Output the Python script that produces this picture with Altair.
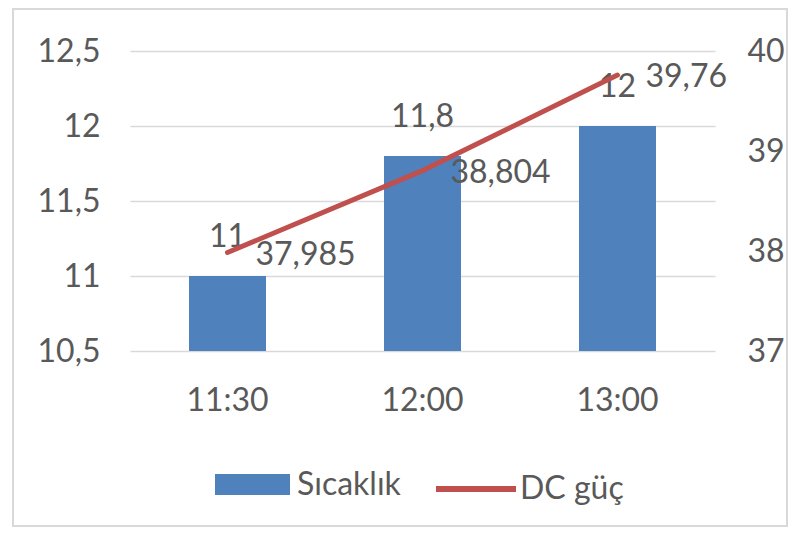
import altair as alt
import pandas as pd

times = ["11:30", "12:00", "13:00"]
sicaklik = [11, 11.8, 12]
dc_guc = [37.985, 38.804, 39.76]
series = ["Sıcaklık", "DC güç"]

def tr(v):
    s = ("%g" % v)
    return s.replace(".", ",")

df = pd.DataFrame({
    "time": times,
    "sic": sicaklik,
    "dc": dc_guc,
    "sic_lbl": [tr(v) for v in sicaklik],
    "dc_lbl": [tr(v) for v in dc_guc],
    "s1": [series[0]] * len(times),
    "s2": [series[1]] * len(times),
})

FONT = "Lato"
TXT = "#595959"
GRID = "#D9D9D9"
BLUE = "#4F81BD"
RED = "#C0504D"
FS = 32

x_enc = alt.X("time:N", sort=times,
              scale=alt.Scale(paddingInner=0.6, paddingOuter=0.3),
              axis=alt.Axis(title=None, ticks=False, domain=False, labelAngle=0,
                            labelPadding=34, labelFont=FONT, labelFontSize=FS,
                            labelColor=TXT))

frame = alt.Chart(pd.DataFrame({"f": [0]})).mark_rect(
    fillOpacity=0, stroke=GRID, strokeWidth=2
).encode(x=alt.value(-117), x2=alt.value(657), y=alt.value(-42), y2=alt.value(475))

bars = alt.Chart(df).mark_bar(size=77).encode(
    x=x_enc,
    y=alt.Y("sic:Q", scale=alt.Scale(domain=[10.5, 12.5], zero=False, nice=False),
            axis=alt.Axis(title=None, values=[10.5, 11, 11.5, 12, 12.5],
                          labelExpr="replace(toString(datum.value), '.', ',')",
                          grid=True, gridColor=GRID, gridWidth=1.5, domain=False,
                          ticks=False, labelPadding=30, labelFont=FONT,
                          labelFontSize=FS, labelColor=TXT)),
    y2=alt.datum(10.5),
    fill=alt.Fill("s1:N",
                  scale=alt.Scale(domain=[series[0]], range=[BLUE]),
                  legend=alt.Legend(orient="none", legendX=85, legendY=396,
                                    title=None, padding=0,
                                    symbolType="M-1,-0.28L1,-0.28L1,0.28L-1,0.28Z",
                                    symbolSize=5625, symbolStrokeWidth=0,
                                    labelFont=FONT, labelFontSize=FS,
                                    labelColor=TXT, labelOffset=7)),
)

bar_text = alt.Chart(df).mark_text(
    baseline="alphabetic", dy=-29, font=FONT, fontSize=FS, color=TXT
).encode(x=alt.X("time:N", sort=times), y=alt.Y("sic:Q"), text="sic_lbl:N")

left = alt.layer(frame, bars, bar_text)

line = alt.Chart(df).mark_line(strokeWidth=5, strokeCap="round").encode(
    x=alt.X("time:N", sort=times),
    y=alt.Y("dc:Q", scale=alt.Scale(domain=[37, 40], zero=False, nice=False),
            axis=alt.Axis(title=None, orient="right", values=[37, 38, 39, 40],
                          labelExpr="toString(datum.value)",
                          grid=False, domain=False, ticks=False, labelPadding=32,
                          labelFont=FONT, labelFontSize=FS, labelColor=TXT)),
    stroke=alt.Stroke("s2:N",
                      scale=alt.Scale(domain=[series[1]], range=[RED]),
                      legend=alt.Legend(orient="none", legendX=303, legendY=395,
                                        title=None, padding=0,
                                        symbolType="stroke", symbolSize=6400,
                                        symbolStrokeWidth=6,
                                        labelFont=FONT, labelFontSize=FS,
                                        labelColor=TXT, labelOffset=1)),
)

line_text = alt.Chart(df).mark_text(
    align="left", baseline="middle", dx=28, dy=2, font=FONT, fontSize=FS, color=TXT
).encode(x=alt.X("time:N", sort=times), y=alt.Y("dc:Q"), text="dc_lbl:N")

right = alt.layer(line, line_text)

chart = alt.layer(left, right).resolve_scale(y="independent").properties(
    width=585, height=300,
    autosize=alt.AutoSizeParams(type="none"),
    padding={"left": 122, "top": 43, "right": 74, "bottom": 178},
    background="white",
).configure_view(stroke=None)

chart.save("out.html", embed_options={"renderer": "svg", "actions": False})
